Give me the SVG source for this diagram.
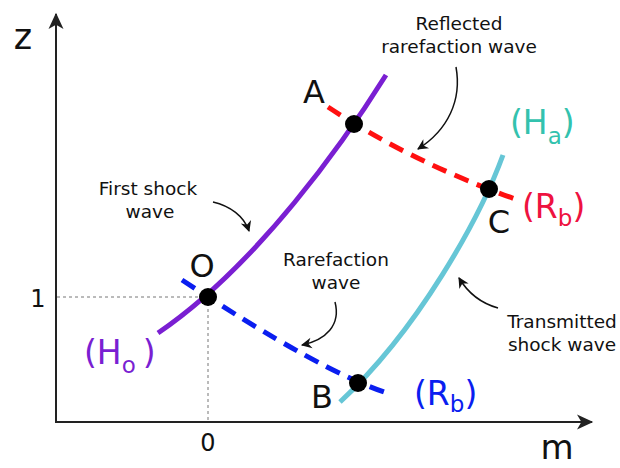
<svg xmlns="http://www.w3.org/2000/svg" width="620" height="468" viewBox="0 0 620 468">
<defs>
<style>
text{font-family:"DejaVu Sans","Liberation Sans",sans-serif;fill:#111}
.lab{font-size:32px;text-anchor:middle}
.ann{font-size:18.5px;text-anchor:middle}
.tick{font-size:24px;text-anchor:middle}
.axis{stroke:#222;stroke-width:2;fill:none}
.guide{stroke:#777;stroke-width:1;stroke-dasharray:3 3;fill:none}
.solid{fill:none;stroke-width:5}
.dash{fill:none;stroke-width:5;stroke-dasharray:15 9}
.point{fill:#000}
.note{fill:none;stroke:#111;stroke-width:1.5}
.clab{font-size:33px}
.sub{font-size:23px}
</style>
<marker id="axhead" markerUnits="userSpaceOnUse" markerWidth="20" markerHeight="20" viewBox="-14 -7 16 14" refX="0" refY="0" orient="auto">
<path d="M1,0 L-12,-6 L-8.5,0 L-12,6 Z" fill="#222"/>
</marker>
<marker id="nhead" markerUnits="userSpaceOnUse" markerWidth="14" markerHeight="14" viewBox="-11 -6 13 12" refX="0" refY="0" orient="auto">
<path d="M1,0 L-9,-5 L-6,0 L-9,5 Z" fill="#111"/>
</marker>
</defs>

<g id="axes">
<line class="axis" x1="56" y1="423" x2="56" y2="14" marker-end="url(#axhead)"/>
<line class="axis" x1="55" y1="422" x2="592" y2="422" marker-end="url(#axhead)"/>
<text class="lab" x="23" y="49" style="font-size:35px">z</text>
<text class="lab" x="557" y="459" style="font-size:34px">m</text>
<text class="tick" x="38" y="307">1</text>
<text class="tick" x="208" y="451">0</text>
<line class="guide" x1="57" y1="297" x2="208" y2="297"/>
<line class="guide" x1="208" y1="297" x2="208" y2="421"/>
</g>

<g id="connectors">
<path id="curve-Ho" class="solid" stroke="#7A1FD2" d="M158,333 C258,265 346,139 386,75"/>
<path id="curve-Ha" class="solid" stroke="#66C6D6" d="M340,402 C418,330 480,218 503,155"/>
<path id="curve-Rb-blue" class="dash" stroke="#0A1EF0" d="M182,280 Q321.5,372.1 390,394"/>
<path id="curve-Rb-red" class="dash" stroke="#FF1010" d="M328,107 Q410.3,161.3 515,199"/>
<path class="note" d="M456,67 C462,100 448,130 418,149" marker-end="url(#nhead)"/>
<path class="note" d="M213,202 C230,206 244,216 249,231" marker-end="url(#nhead)"/>
<path class="note" d="M335,302 C341,325 326,340 302,345" marker-end="url(#nhead)"/>
<path class="note" d="M498,308 C480,303 468,293 459,278" marker-end="url(#nhead)"/>
</g>

<g id="node-O">
<circle class="point" cx="208" cy="297" r="9"/>
<text class="lab" x="202" y="277">O</text>
</g>
<g id="node-A">
<circle class="point" cx="354" cy="124" r="9"/>
<text class="lab" x="314" y="103">A</text>
</g>
<g id="node-B">
<circle class="point" cx="358" cy="383" r="9"/>
<text class="lab" x="322" y="408">B</text>
</g>
<g id="node-C">
<circle class="point" cx="489" cy="189" r="9"/>
<text class="lab" x="499" y="233">C</text>
</g>

<g id="label-Ho">
<text class="clab" x="84" y="364" style="fill:#7A1FD2">(H<tspan class="sub" dy="9">o</tspan><tspan dx="7" dy="-9">)</tspan></text>
</g>
<g id="label-Ha">
<text class="clab" x="510" y="134" style="fill:#33C2AE">(H<tspan class="sub" dy="10">a</tspan><tspan dy="-10">)</tspan></text>
</g>
<g id="label-Rb-red">
<text class="clab" x="522" y="218" style="fill:#EE1240">(R<tspan class="sub" dy="8">b</tspan><tspan dy="-8">)</tspan></text>
</g>
<g id="label-Rb-blue">
<text class="clab" x="414" y="405" style="fill:#0A1EF0">(R<tspan class="sub" dy="7">b</tspan><tspan dy="-7">)</tspan></text>
</g>

<g id="note-reflected">
<text class="ann" x="459" y="30">Reflected</text>
<text class="ann" x="459" y="53">rarefaction wave</text>
</g>
<g id="note-first">
<text class="ann" x="148" y="195">First shock</text>
<text class="ann" x="150" y="218">wave</text>
</g>
<g id="note-rarefaction">
<text class="ann" x="336" y="266">Rarefaction</text>
<text class="ann" x="336" y="289">wave</text>
</g>
<g id="note-transmitted">
<text class="ann" x="562" y="328">Transmitted</text>
<text class="ann" x="562" y="351">shock wave</text>
</g>
</svg>
